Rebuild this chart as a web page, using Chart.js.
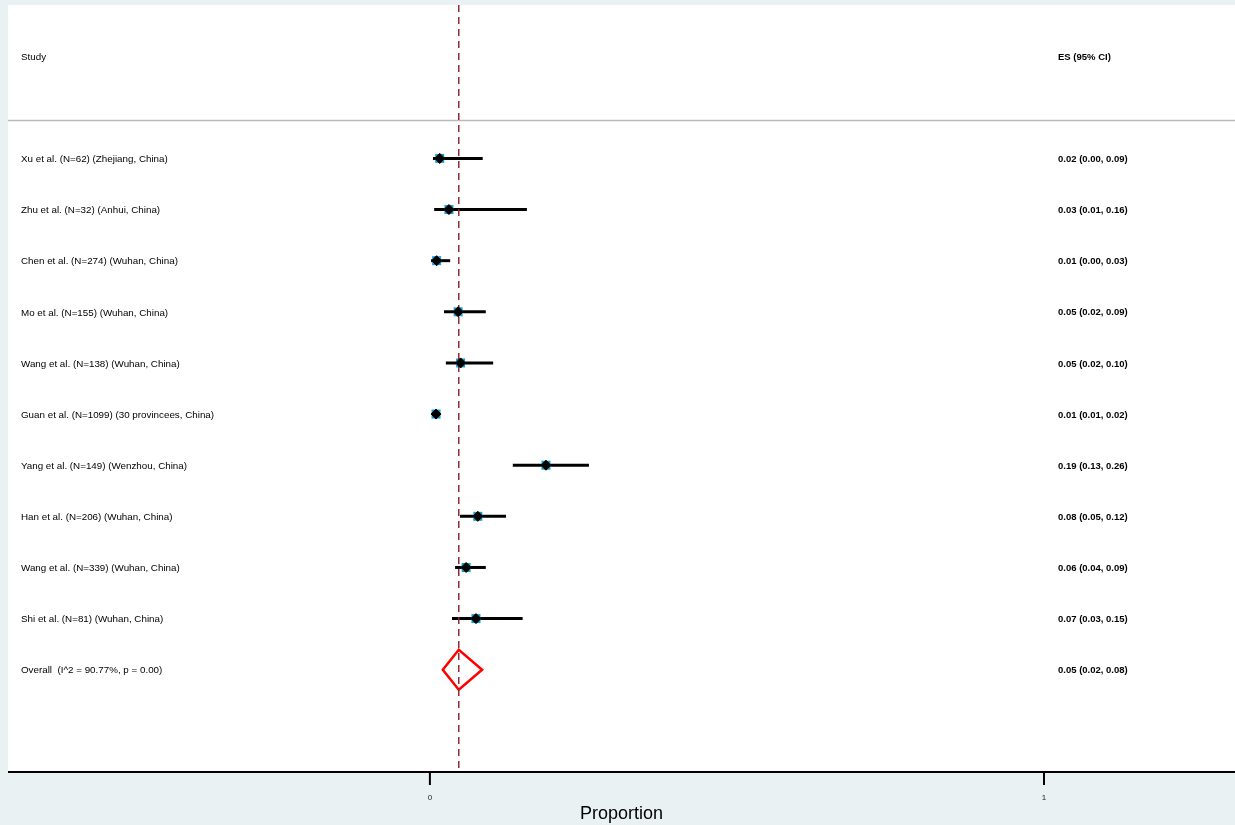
<!DOCTYPE html><html><head><meta charset="utf-8">
<script src="https://cdn.jsdelivr.net/npm/chart.js@4/dist/chart.umd.min.js"></script>
<style>html,body{margin:0;padding:0;background:#e9f1f3;overflow:hidden}#c{display:block}</style></head><body>
<canvas id="c" width="1235" height="825" style="width:1235px;height:825px"></canvas>
<script>
const studies=["Xu et al. (N=62) (Zhejiang, China)","Zhu et al. (N=32) (Anhui, China)","Chen et al. (N=274) (Wuhan, China)","Mo et al. (N=155) (Wuhan, China)","Wang et al. (N=138) (Wuhan, China)","Guan et al. (N=1099) (30 provincees, China)","Yang et al. (N=149) (Wenzhou, China)","Han et al. (N=206) (Wuhan, China)","Wang et al. (N=339) (Wuhan, China)","Shi et al. (N=81) (Wuhan, China)"];
const es=[0.016,0.031,0.011,0.046,0.050,0.010,0.189,0.078,0.059,0.075];
const lo=[0.005,0.007,0.002,0.023,0.026,0.006,0.135,0.049,0.041,0.036];
const hi=[0.086,0.158,0.033,0.091,0.103,0.016,0.259,0.124,0.091,0.151];
const esLabels=["0.02 (0.00, 0.09)","0.03 (0.01, 0.16)","0.01 (0.00, 0.03)","0.05 (0.02, 0.09)","0.05 (0.02, 0.10)","0.01 (0.01, 0.02)","0.19 (0.13, 0.26)","0.08 (0.05, 0.12)","0.06 (0.04, 0.09)","0.07 (0.03, 0.15)"];
const overall={label:"Overall  (I^2 = 90.77%, p = 0.00)",es:0.047,lo:0.021,hi:0.085,text:"0.05 (0.02, 0.08)"};
const xTicks=[0,1];
const F='"Liberation Sans", Arial, sans-serif';
const plug={id:'forest',
beforeDraw(ch){const {ctx,chartArea:a}=ch;ctx.save();ctx.fillStyle='#fff';ctx.fillRect(a.left,a.top,a.right-a.left,a.bottom-a.top);ctx.restore();},
beforeDatasetsDraw(ch){const {ctx,chartArea:a,scales:{x,y}}=ch;ctx.save();
 ctx.strokeStyle='#bbb';ctx.lineWidth=1.5;ctx.beginPath();ctx.moveTo(a.left,y.getPixelForValue(-0.74));ctx.lineTo(a.right,y.getPixelForValue(-0.74));ctx.stroke();
 ctx.strokeStyle='#000';ctx.lineWidth=3;
 for(let i=0;i<es.length;i++){const py=y.getPixelForValue(i);ctx.beginPath();ctx.moveTo(x.getPixelForValue(lo[i]),py);ctx.lineTo(x.getPixelForValue(hi[i]),py);ctx.stroke();}
 ctx.fillStyle='#1a9fd0';
 for(let i=0;i<es.length;i++){const px=x.getPixelForValue(es[i]),py=y.getPixelForValue(i);ctx.fillRect(px-4.5,py-4.5,9,9);}
 const oy=y.getPixelForValue(es.length);ctx.strokeStyle='#f00';ctx.lineWidth=2.5;ctx.beginPath();
 ctx.moveTo(x.getPixelForValue(overall.lo),oy);ctx.lineTo(x.getPixelForValue(overall.es),oy-20);ctx.lineTo(x.getPixelForValue(overall.hi),oy);ctx.lineTo(x.getPixelForValue(overall.es),oy+20);ctx.closePath();ctx.stroke();
 ctx.strokeStyle='#8e2b36';ctx.lineWidth=1.5;ctx.setLineDash([7,5]);ctx.beginPath();const dx=x.getPixelForValue(overall.es);ctx.moveTo(dx,a.top);ctx.lineTo(dx,a.bottom);ctx.stroke();ctx.setLineDash([]);
 ctx.fillStyle='#000';ctx.textBaseline='middle';ctx.textAlign='left';
 ctx.font='9.8px '+F;ctx.fillText('Study',21,y.getPixelForValue(-2)+1);
 ctx.font='bold 9.5px '+F;ctx.fillText('ES (95% CI)',1058,y.getPixelForValue(-2)+1);
 for(let i=0;i<=es.length;i++){const py=y.getPixelForValue(i)+1;ctx.font='9.8px '+F;ctx.fillText(i<es.length?studies[i]:overall.label,21,py);ctx.font='bold 9.5px '+F;ctx.fillText(i<es.length?esLabels[i]:overall.text,1058,py);}
 ctx.strokeStyle='#000';ctx.lineWidth=2;ctx.beginPath();ctx.moveTo(a.left,a.bottom);ctx.lineTo(a.right,a.bottom);ctx.stroke();
 ctx.textAlign='center';ctx.font='8px '+F;ctx.fillStyle='#222';
 for(const t of xTicks){const px=x.getPixelForValue(t);ctx.beginPath();ctx.moveTo(px,a.bottom);ctx.lineTo(px,a.bottom+13);ctx.stroke();ctx.fillText(String(t),px,a.bottom+26);}
 ctx.fillStyle='#000';ctx.font='18px '+F;ctx.fillText('Proportion',x.getPixelForValue(0.312),a.bottom+42);
 ctx.restore();}};
new Chart(document.getElementById('c'),{type:'scatter',
data:{datasets:[{data:es.map((v,i)=>({x:v,y:i})),pointStyle:'rectRot',pointRadius:5,pointHoverRadius:5,backgroundColor:'#000',borderColor:'#000',borderWidth:1}]},
options:{responsive:false,maintainAspectRatio:false,animation:false,events:[],devicePixelRatio:1,
layout:{autoPadding:false,padding:{left:8,right:0,top:5,bottom:53}},
plugins:{legend:{display:false},tooltip:{enabled:false}},
scales:{x:{type:'linear',min:-0.687,max:1.311,display:false},y:{type:'linear',min:-3,max:12,reverse:true,display:false}}},
plugins:[plug]});
</script></body></html>
